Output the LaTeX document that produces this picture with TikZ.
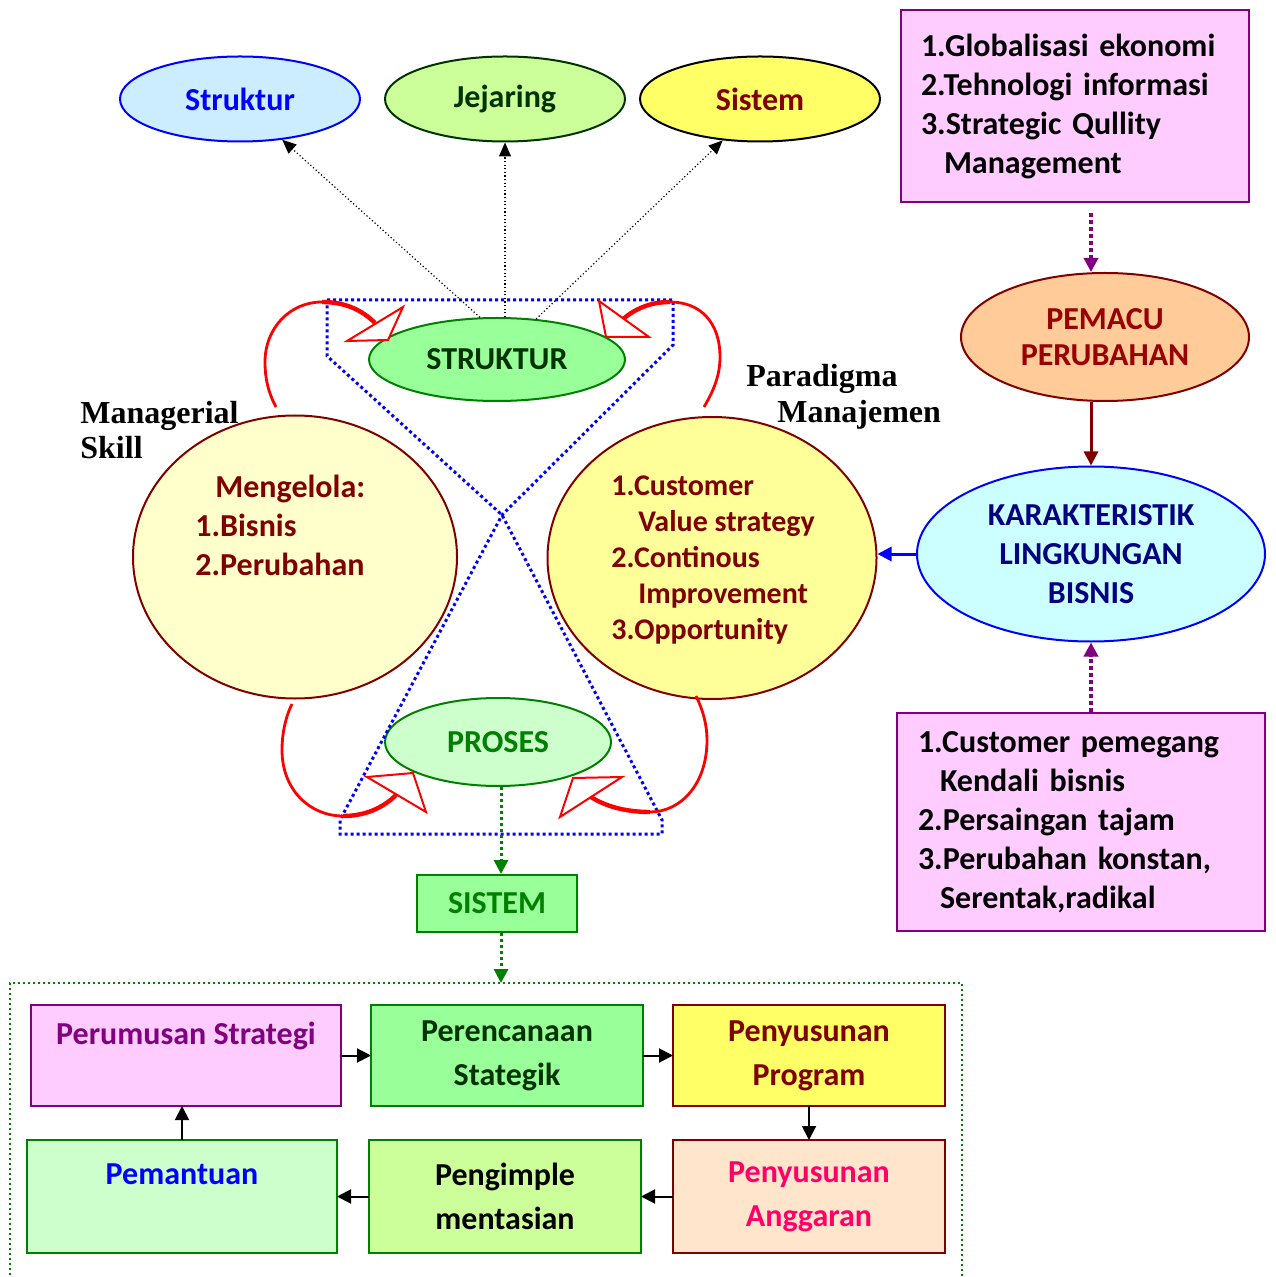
\documentclass[tikz,border=0pt]{standalone}
\usepackage{fontspec}
\setmainfont{Carlito}
\newfontfamily\labelserif{Liberation Serif}
\usepackage{tikz}
\usetikzlibrary{arrows.meta,positioning,shapes.geometric}
\definecolor{kpBlue}{HTML}{0000FF}
\definecolor{kpSky}{HTML}{CCECFF}
\definecolor{kpLime}{HTML}{CCFF99}
\definecolor{kpForest}{HTML}{003300}
\definecolor{kpLemon}{HTML}{FFFF66}
\definecolor{kpMaroon}{HTML}{800000}
\definecolor{kpBrick}{HTML}{990000}
\definecolor{kpPink}{HTML}{FFCCFF}
\definecolor{kpPurple}{HTML}{800080}
\definecolor{kpPeach}{HTML}{FFCC99}
\definecolor{kpAqua}{HTML}{CCFFFF}
\definecolor{kpNavy}{HTML}{000080}
\definecolor{kpCream}{HTML}{FFFFCC}
\definecolor{kpButter}{HTML}{FFFF99}
\definecolor{kpMint}{HTML}{99FF99}
\definecolor{kpPale}{HTML}{CCFFCC}
\definecolor{kpGreen}{HTML}{008000}
\definecolor{kpApricot}{HTML}{FFE5CC}
\definecolor{kpRose}{HTML}{FF0066}
\definecolor{kpRed}{HTML}{FF0000}
\newcommand{\kpfont}{\fontsize{16}{19.5}\selectfont\bfseries}
\tikzset{
  oval/.style={
    ellipse,
    line width=1pt,
    inner sep=0pt,
    align=center,
    font=\kpfont
  },
  listbox/.style={
    rectangle,
    draw=kpPurple,
    fill=kpPink,
    line width=1pt,
    align=left,
    inner ysep=0pt,
    font=\kpfont
  },
  stagebox/.style={
    rectangle,
    line width=1pt,
    inner sep=0pt,
    outer sep=0pt,
    align=center,
    font=\fontsize{16}{22}\selectfont\bfseries
  },
  flow/.style={
    -{Triangle[length=7pt,width=7pt]},
    line width=1pt,
    draw=black
  },
  linkdot/.style={
    -{Triangle[length=7pt,width=6pt]},
    line width=0.6pt,
    dash pattern=on 0.6pt off 1.2pt,
    draw=black
  },
  feedarrow/.style={
    -{Triangle[length=7pt,width=7pt]},
    line width=2pt,
    dash pattern=on 2pt off 1.5pt,
    draw=kpPurple
  },
  greenarrow/.style={
    -{Triangle[length=7pt,width=7pt]},
    line width=1.5pt,
    dash pattern=on 1.5pt off 1.5pt,
    draw=kpGreen
  },
  cyclearc/.style={
    draw=kpRed,
    line width=1.4pt
  },
  cyclehead/.style={
    draw=kpRed,
    fill=white,
    line width=1pt
  },
  hourglass/.style={
    draw=kpBlue,
    line width=1.5pt,
    dash pattern=on 1.5pt off 1.5pt
  },
  stagesframe/.style={
    draw=kpGreen,
    line width=1pt,
    dash pattern=on 1pt off 1.5pt
  }
}
\begin{document}
\begin{tikzpicture}[x=0.5pt,y=-0.5pt]
  \useasboundingbox (0,0) rectangle (1275,1277);
  % top ovals
  \node[oval,draw=kpBlue,fill=kpSky,text=kpBlue,minimum width=120pt,minimum height=42.5pt] (topstr) at (240,99) {Struktur};
  \node[oval,draw=kpForest,fill=kpLime,text=kpForest,minimum width=120pt,minimum height=42.5pt] (topjej) at (505,99) {Jejaring};
  \node[oval,draw=black,fill=kpLemon,text=kpMaroon,minimum width=120pt,minimum height=42.5pt] (topsis) at (760,99) {Sistem};
  % right column
  \node[listbox,text width=154pt,inner xsep=10pt,minimum height=96pt] (drivers) at (1075,106) {1.Globalisasi ekonomi\\2.Tehnologi informasi\\3.Strategic Qullity\\\hspace*{11.5pt}Management};
  \node[oval,draw=kpMaroon,fill=kpPeach,text=kpBrick,minimum width=144pt,minimum height=64pt,font=\fontsize{16}{18}\selectfont\bfseries] (pemacu) at (1105,337) {PEMACU\\PERUBAHAN};
  \node[oval,draw=kpBlue,fill=kpAqua,text=kpNavy,minimum width=174pt,minimum height=87.5pt] (karak) at (1091,554) {KARAKTERISTIK\\LINGKUNGAN\\BISNIS};
  \node[listbox,text width=163pt,inner xsep=10.5pt,minimum height=109pt] (traits) at (1081,822) {1.Customer pemegang\\\hspace*{11pt}Kendali bisnis\\2.Persaingan tajam\\3.Perubahan konstan,\\\hspace*{11pt}Serentak,radikal};
  % middle
  \node[oval,draw=kpMaroon,fill=kpCream,minimum width=162pt,minimum height=141.5pt] (skill) at (295,557) {};
  \node[anchor=north west,inner sep=0pt,align=left,font=\kpfont,text=kpMaroon] (skilltxt) at (195,475) {\hspace*{10pt}Mengelola:\\1.Bisnis\\2.Perubahan};
  \node[oval,draw=kpMaroon,fill=kpButter,minimum width=164.5pt,minimum height=141pt] (paradigm) at (712,558) {};
  \node[anchor=north west,inner sep=0pt,align=left,font=\fontsize{15}{18}\selectfont\bfseries,text=kpMaroon] (paratxt) at (611,475) {1.Customer\\\hspace*{13.5pt}Value strategy\\2.Continous\\\hspace*{13.5pt}Improvement\\3.Opportunity};
  \node[anchor=north west,inner sep=0pt,align=left,font=\fontsize{16}{17.5}\selectfont\labelserif\bfseries] (skilllbl) at (80,401) {Managerial\\Skill};
  \node[anchor=north west,inner sep=0pt,align=left,font=\fontsize{16}{18}\selectfont\labelserif\bfseries] (paralbl) at (746,364) {Paradigma\\\hspace*{15.5pt}Manajemen};
  \node[oval,draw=kpGreen,fill=kpMint,text=kpForest,minimum width=128pt,minimum height=41.5pt] (midstr) at (497,359.5) {STRUKTUR};
  \node[oval,draw=kpGreen,fill=kpPale,text=kpGreen,minimum width=113pt,minimum height=44pt] (proses) at (498,742) {PROSES};
  \node[rectangle,draw=kpGreen,fill=kpMint,text=kpGreen,line width=1pt,minimum width=80pt,minimum height=28.5pt,font=\kpfont] (sistem) at (497,903.5) {SISTEM};
  % stages
  \node[stagebox,draw=kpPurple,fill=kpPink,text=kpPurple,minimum width=155pt,minimum height=50.5pt] (rumus) at (186,1055.5) {Perumusan Strategi\\\mbox{}};
  \node[stagebox,draw=kpGreen,fill=kpMint,text=kpForest,minimum width=136pt,minimum height=50.5pt,right=15pt of rumus] (rencana) {Perencanaan\\Stategik};
  \node[stagebox,draw=kpMaroon,fill=kpLemon,text=kpMaroon,minimum width=136pt,minimum height=50.5pt,right=15pt of rencana] (program) {Penyusunan\\Program};
  \node[stagebox,draw=kpMaroon,fill=kpApricot,text=kpRose,minimum width=136pt,minimum height=56.5pt,below=17pt of program] (anggaran) {Penyusunan\\Anggaran};
  \node[stagebox,draw=kpGreen,fill=kpLime,text=black,minimum width=136pt,minimum height=56.5pt,left=16pt of anggaran] (implement) {Pengimple\\mentasian};
  \node[stagebox,draw=kpGreen,fill=kpPale,text=kpBlue,minimum width=155pt,minimum height=56.5pt,left=16pt of implement] (pantau) {Pemantuan\\\mbox{}};
  \coordinate (frametop) at (501,983);
  \draw[stagesframe] (10,1290) -- (10,983) -- (962,983) -- (962,1290);
  % hourglass and cycle arrows
  \draw[hourglass] (327,300) -- (673,300) -- (673,345) -- (502,515) -- (340,820) -- (340,834)
    -- (662,834) -- (662,820) -- (502,515) -- (327,356) -- cycle;
  \draw[cyclearc] (276,407) .. controls (268,392) and (265,378) .. (265,362)
    .. controls (265,328) and (290,302) .. (322,302);
  \draw[cyclearc,line width=2.2pt] (322,302) .. controls (345,302) and (362,310) .. (375,323);
  \draw[cyclehead] (403,307) -- (347,341) -- (388,340) -- cycle;
  \draw[cyclearc] (704,407) .. controls (714,390) and (720,375) .. (720,357)
    .. controls (720,322) and (700,302) .. (670,302);
  \draw[cyclearc,line width=2.2pt] (670,302) .. controls (650,302) and (635,309) .. (623,319);
  \draw[cyclehead] (599,301) -- (606,337) -- (649,337) -- cycle;
  \draw[cyclearc] (292,704) .. controls (285,718) and (282,735) .. (282,750)
    .. controls (282,790) and (310,816) .. (343,816);
  \draw[cyclearc,line width=2.2pt] (343,816) .. controls (365,816) and (383,808) .. (396,795);
  \draw[cyclehead] (367,777) -- (413,773) -- (426,812) -- cycle;
  \draw[cyclearc] (696,696) .. controls (703,710) and (707,725) .. (707,740)
    .. controls (707,785) and (680,812) .. (650,812);
  \draw[cyclearc,line width=2.2pt] (650,812) .. controls (625,812) and (605,806) .. (591,797);
  \draw[cyclehead] (573,778) -- (622,777) -- (560,817) -- cycle;
  % connectors
  \draw[linkdot] (midstr.112) -- (topstr.-44);
  \draw[linkdot] (midstr.north -| topjej.south) -- (topjej.south);
  \draw[linkdot] (midstr.46) -- (topsis.228);
  \draw[feedarrow,shorten <=5pt] (drivers.south -| karak.north) -- (pemacu.north -| karak.north);
  \draw[-{Triangle[length=7pt,width=7pt]},line width=1.5pt,draw=kpMaroon] (pemacu.south -| karak.north) -- (karak.north);
  \draw[-{Triangle[length=7pt,width=7pt]},line width=1.5pt,draw=kpBlue] (karak.west) -- (karak.west -| paradigm.east);
  \draw[feedarrow] (traits.north -| karak.south) -- (karak.south);
  \draw[greenarrow] (proses.south -| frametop) -- (sistem.north -| frametop);
  \draw[greenarrow] (sistem.south -| frametop) -- (frametop);
  \draw[flow] (rumus) -- (rencana);
  \draw[flow] (rencana) -- (program);
  \draw[flow] (program) -- (anggaran);
  \draw[flow] (anggaran) -- (implement);
  \draw[flow] (implement) -- (pantau);
  \draw[flow] (pantau.north) -- (pantau.north |- rumus.south);
\end{tikzpicture}
\end{document}
